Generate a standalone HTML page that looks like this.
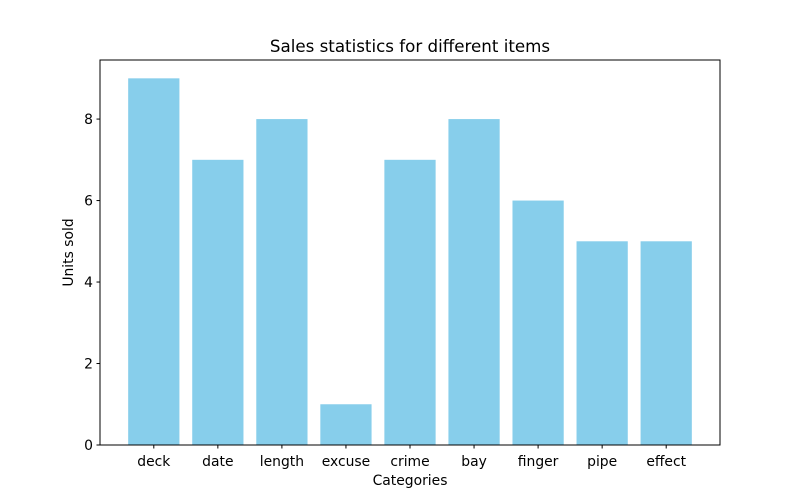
<!DOCTYPE html>
<html><head><meta charset="utf-8"><style>
body{margin:0;background:#fff;}
svg{display:block;font-family:"DejaVu Sans","Liberation Sans",sans-serif;}
</style></head><body>
<svg id="chart" width="800" height="500">
<text x="410" y="52" text-anchor="middle" font-size="16.7">Sales statistics for different items</text>
<g id="bars"></g>
<g id="xticks"></g>
<g id="yticks"></g>
<rect x="100" y="60" width="620" height="385" fill="none" stroke="#000" stroke-width="1"/>
<text x="410" y="485" text-anchor="middle" font-size="13.9">Categories</text>
<text transform="translate(73,252.5) rotate(-90)" text-anchor="middle" font-size="13.9">Units sold</text>
</svg>
<script>
const categories=["deck","date","length","excuse","crime","bay","finger","pipe","effect"];
const values=[9,7,8,1,7,8,6,5,5];
const yTicks=[0,2,4,6,8];
const NS="http://www.w3.org/2000/svg";
const L=100,R=720,T=60,B=445;
const xmin=-0.84,xmax=categories.length-1+0.84;
const ymax=Math.max(...values)*1.05;
const xs=i=>L+(i-xmin)/(xmax-xmin)*(R-L);
const ys=v=>B-v/ymax*(B-T);
const bw=0.8*(R-L)/(xmax-xmin);
function mk(tag,attrs,parent){const e=document.createElementNS(NS,tag);for(const k in attrs)e.setAttribute(k,attrs[k]);parent.appendChild(e);return e;}
const bars=document.getElementById('bars'),xt=document.getElementById('xticks'),yt=document.getElementById('yticks');
categories.forEach((c,i)=>{
  const r=mk('rect',{x:xs(i)-bw/2,y:ys(values[i]),width:bw,height:B-ys(values[i]),fill:'#87ceeb'},bars);
  
  
  const tk=mk('line',{x1:xs(i),x2:xs(i),y1:B,y2:B+3.5,stroke:'#000'},xt);
  
  
  const t=mk('text',{x:xs(i),y:B+21,'text-anchor':'middle','font-size':'13.9'},xt);
  t.textContent=c;
  
  
});
yTicks.forEach(v=>{
  const tk=mk('line',{x1:L-3.5,x2:L,y1:ys(v),y2:ys(v),stroke:'#000'},yt);
  
  
  const t=mk('text',{x:L-7,y:ys(v)+5,'text-anchor':'end','font-size':'13.9'},yt);
  t.textContent=v;
  
  
});
</script>
</body></html>
